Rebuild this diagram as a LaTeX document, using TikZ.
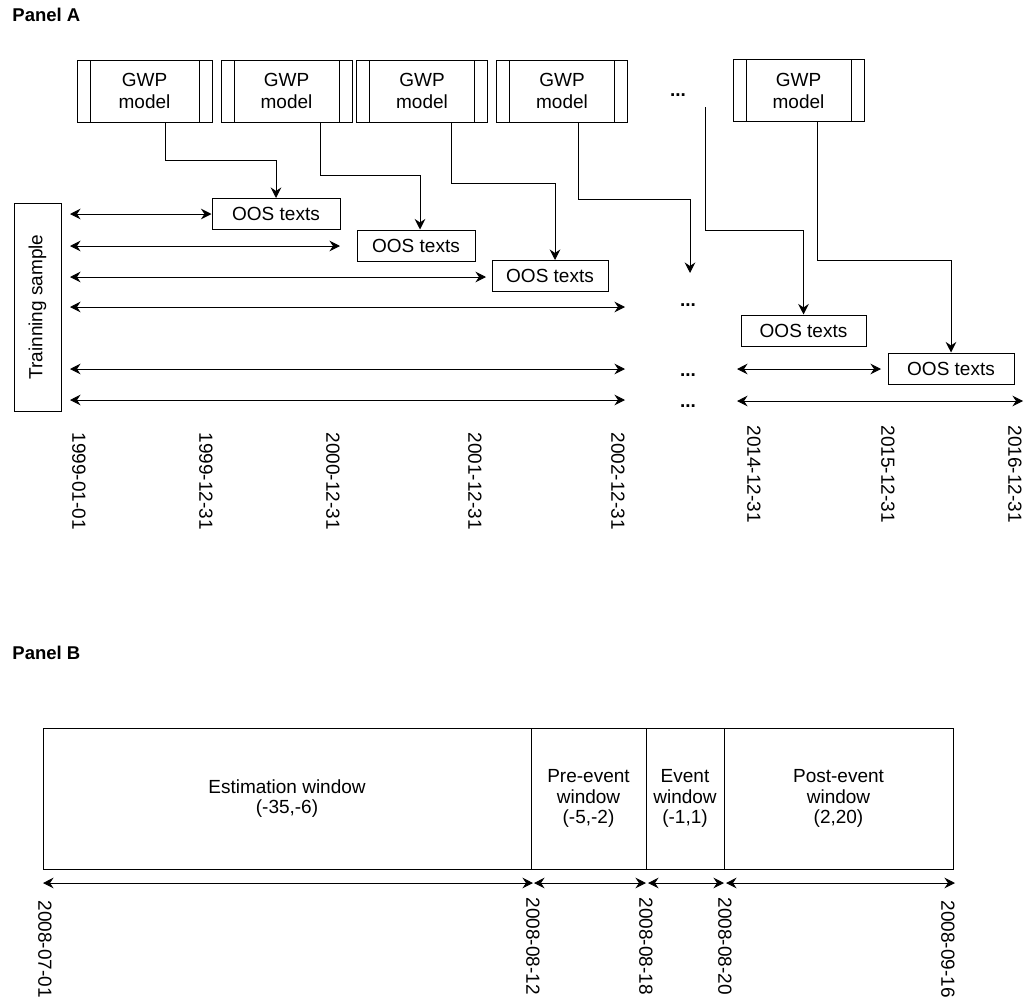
\documentclass[tikz,border=0pt]{standalone}
\usepackage{fontspec}
\setmainfont{Liberation Sans}
\usepackage{tikz}
\usetikzlibrary{arrows.meta}
\tikzset{every picture/.style={line width=1pt}}
\tikzset{
  txt/.style={font=\fontsize{19}{22}\selectfont},
  gwp/.style={txt, draw, minimum width=131pt, minimum height=62pt, align=center, inner sep=0pt,
    path picture={
      \draw ([xshift=13pt]path picture bounding box.north west) -- ([xshift=13pt]path picture bounding box.south west);
      \draw ([xshift=-13pt]path picture bounding box.north east) -- ([xshift=-13pt]path picture bounding box.south east);}},
  oos/.style={txt, draw, minimum height=31pt, inner sep=0pt},
  win/.style={draw, minimum height=141pt, align=center, inner sep=0pt, font=\fontsize{19}{20.5}\selectfont},
  date/.style={txt, rotate=-90, anchor=west, inner sep=0pt},
  dots/.style={txt, inner sep=0pt, font=\fontsize{19}{22}\selectfont\bfseries},
  panel/.style={anchor=west, inner sep=0pt, font=\fontsize{18.5}{22}\selectfont\bfseries},
  conn/.style={-{Stealth[length=10.5pt,width=10.5pt,inset=3.5pt]}},
  dbl/.style={{Stealth[length=10.5pt,width=10.5pt,inset=3.5pt]}-{Stealth[length=10.5pt,width=10.5pt,inset=3.5pt]}}
}
\begin{document}
\begin{tikzpicture}[x=1pt,y=1pt,yscale=-1,xscale=1]
    \useasboundingbox (0,0) rectangle (1029,1001);
    \node[panel] (panelA) at (12,15) {Panel A};
    \node[gwp, minimum width=135pt] (gwp1) at (144.5,91) {GWP\\model};
    \node[gwp] (gwp2) at (286.5,91) {GWP\\model};
    \node[gwp] (gwp3) at (422,91) {GWP\\model};
    \node[gwp] (gwp4) at (562,91) {GWP\\model};
    \node[gwp] (gwp5) at (798.5,90.5) {GWP\\model};
    \node[dots] (dotsTop) at (678,95) {...};
    \node[oos, minimum width=128pt] (oos1) at (276,214) {OOS texts};
    \node[oos, minimum width=118pt] (oos2) at (416,245.5) {OOS texts};
    \node[oos, minimum width=116pt] (oos3) at (550,276) {OOS texts};
    \node[oos, minimum width=125pt] (oos4) at (803.5,330.5) {OOS texts};
    \node[oos, minimum width=126pt] (oos5) at (951,368.5) {OOS texts};
    \node[txt, draw, rotate=90, minimum width=208pt, minimum height=47pt, inner sep=0pt] (train) at (37.5,307) {Trainning sample};
    \coordinate (end4) at (690,273);
    \coordinate (start6) at (705,107);
    \draw[conn] ([xshift=20.5pt]gwp1.south) -- ++(0,38) -| (oos1.north);
    \draw[conn] ([xshift=33.5pt]gwp2.south) -- ++(0,53) -| ([xshift=4pt]oos2.north);
    \draw[conn] ([xshift=29pt]gwp3.south) -- ++(0,61) -| ([xshift=5pt]oos3.north);
    \draw[conn] ([xshift=16pt]gwp4.south) -- ++(0,77) -| (end4);
    \draw[conn] (start6) -- ++(0,123) -| (oos4.north);
    \draw[conn] ([xshift=18.5pt]gwp5.south) -- ++(0,138) -| (oos5.north);
    \coordinate (r1a) at (70,214);
    \coordinate (r2a) at (70,246);
    \coordinate (r2b) at (340,246);
    \coordinate (r3a) at (70,277);
    \coordinate (r3b) at (486,277);
    \coordinate (r4a) at (70,307);
    \coordinate (r4b) at (625,307);
    \coordinate (r5a) at (70,369);
    \coordinate (r5b) at (625,369);
    \coordinate (r6a) at (70,400);
    \coordinate (r6b) at (625,400);
    \coordinate (r7a) at (737,369);
    \coordinate (r7b) at (881,369);
    \coordinate (r8a) at (737,401);
    \coordinate (r8b) at (1023,401);
    \draw[dbl] (r1a) -- (oos1.west);
    \draw[dbl] (r2a) -- (r2b);
    \draw[dbl] (r3a) -- (r3b);
    \draw[dbl] (r4a) -- (r4b);
    \draw[dbl] (r5a) -- (r5b);
    \draw[dbl] (r6a) -- (r6b);
    \draw[dbl] (r7a) -- (r7b);
    \draw[dbl] (r8a) -- (r8b);
    \node[dots] (dots4) at (688,305) {...};
    \node[dots] (dots5) at (688,375) {...};
    \node[dots] (dots6) at (688,406) {...};
    \node[date] (dA1) at (79,432) {1999-01-01};
    \node[date] (dA2) at (206,432) {1999-12-31};
    \node[date] (dA3) at (333,432) {2000-12-31};
    \node[date] (dA4) at (475,432) {2001-12-31};
    \node[date] (dA5) at (618,432) {2002-12-31};
    \node[date] (dA6) at (754,425) {2014-12-31};
    \node[date] (dA7) at (888,425) {2015-12-31};
    \node[date] (dA8) at (1015,425) {2016-12-31};
    \node[panel] (panelB) at (12,653) {Panel B};
    \node[win, minimum width=488pt] (est) at (287,798.5) {Estimation window\\(-35,-6)};
    \node[win, minimum width=115pt] (pre) at (588.5,798.5) {Pre-event\\window\\(-5,-2)};
    \node[win, minimum width=78pt] (evt) at (685,798.5) {Event\\window\\(-1,1)};
    \node[win, minimum width=229pt] (post) at (838.5,798.5) {Post-event\\window\\(2,20)};
    \coordinate (t0) at (43,883);
    \coordinate (t1a) at (533,883);
    \coordinate (t1b) at (534,883);
    \coordinate (t2a) at (646,883);
    \coordinate (t2b) at (648,883);
    \coordinate (t3a) at (724,883);
    \coordinate (t3b) at (726,883);
    \coordinate (t4) at (955,883);
    \draw[dbl] (t0) -- (t1a);
    \draw[dbl] (t1b) -- (t2a);
    \draw[dbl] (t2b) -- (t3a);
    \draw[dbl] (t3b) -- (t4);
    \node[date] (dB1) at (45,900) {2008-07-01};
    \node[date] (dB2) at (533,897) {2008-08-12};
    \node[date] (dB3) at (646,897) {2008-08-18};
    \node[date] (dB4) at (725,897) {2008-08-20};
    \node[date] (dB5) at (948,900) {2008-09-16};
\end{tikzpicture}
\end{document}
